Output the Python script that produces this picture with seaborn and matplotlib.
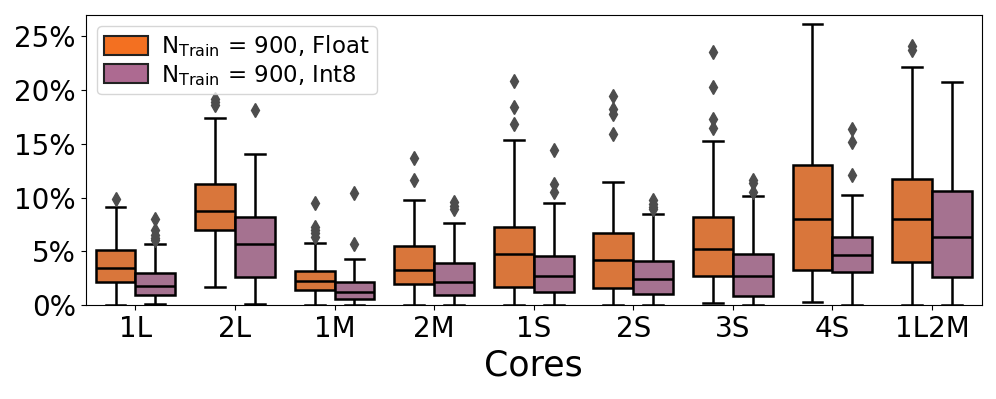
import numpy as np
import pandas as pd
import seaborn as sns
import matplotlib.pyplot as plt
from matplotlib.patches import Patch
from matplotlib.ticker import PercentFormatter, MultipleLocator

# Values (error in %)
cores = ["1L", "2L", "1M", "2M", "1S", "2S", "3S", "4S", "1L2M"]
labels = [r"$\mathrm{N_{Train}}$ = 900, Float", r"$\mathrm{N_{Train}}$ = 900, Int8"]
colors = ["#F37021", "#AD6A91"]

# Float: lower whisker, Q1, median, Q3, upper whisker, outliers
float_lo = [0.0, 1.67, 0.04, 0.04, 0.04, 0.04, 0.21, 0.28, 0.04]
float_q1 = [2.13, 6.96, 1.42, 1.95, 1.70, 1.64, 2.75, 3.28, 3.99]
float_med = [3.49, 8.78, 2.28, 3.28, 4.73, 4.23, 5.23, 8.01, 7.99]
float_q3 = [5.13, 11.23, 3.21, 5.53, 7.30, 6.74, 8.17, 13.03, 11.70]
float_hi = [9.13, 17.36, 5.76, 9.78, 15.35, 11.48, 15.23, 26.09, 22.13]
float_out = [[9.87], [19.13, 18.9, 18.6], [9.53, 7.3, 7.0, 6.69, 6.31],
             [13.68, 11.63], [20.83, 18.38, 16.86], [19.4, 18.2, 17.8, 15.93],
             [23.49, 20.27, 17.27, 16.43], [], [24.08, 23.7]]

# Int8
int_lo = [0.09, 0.15, 0.07, 0.07, 0.04, 0.04, 0.04, 0.04, 0.04]
int_q1 = [0.98, 2.60, 0.58, 0.93, 1.26, 1.05, 0.89, 3.12, 2.63]
int_med = [1.79, 5.72, 1.23, 2.13, 2.69, 2.41, 2.75, 4.67, 6.31]
int_q3 = [2.97, 8.17, 2.16, 3.90, 4.61, 4.11, 4.73, 6.37, 10.58]
int_hi = [5.72, 14.08, 4.30, 7.67, 9.47, 8.45, 10.18, 10.24, 20.76]
int_out = [[8.01, 6.99, 6.53, 6.22, 6.08], [18.13], [10.4, 5.66],
           [9.62, 9.22, 8.9], [14.42, 11.23, 10.49], [9.78, 9.45, 9.1, 8.91],
           [11.63, 11.33, 10.55], [16.37, 15.19, 12.1], []]


# Turn each five-number summary into a sample whose quartiles reproduce it
def sample(lo, q1, med, q3, hi, out, k=30):
    return [lo] + [q1] * k + [med] * k + [q3] * k + [hi] + list(out)


rows = []
summaries = [(labels[0], float_lo, float_q1, float_med, float_q3, float_hi, float_out),
             (labels[1], int_lo, int_q1, int_med, int_q3, int_hi, int_out)]
for name, lo, q1, med, q3, hi, out in summaries:
    for i, c in enumerate(cores):
        for v in sample(lo[i], q1[i], med[i], q3[i], hi[i], out[i]):
            rows.append({"Cores": c, "Type": name, "Error": v})
df = pd.DataFrame(rows)

fig, ax = plt.subplots(figsize=(9.96, 3.99), dpi=100)
fig.subplots_adjust(left=0.086, right=0.9857, top=0.9624, bottom=0.2348)

sns.boxplot(data=df, x="Cores", y="Error", hue="Type", order=cores, hue_order=labels,
            palette=colors, saturation=0.75, linecolor="black", linewidth=1.8,
            fliersize=7,
            flierprops=dict(marker="d", markerfacecolor="#4d4d4d", markeredgecolor="#4d4d4d"),
            ax=ax)

ax.set_ylim(0, 26.95)
ax.yaxis.set_major_locator(MultipleLocator(5))
ax.yaxis.set_major_formatter(PercentFormatter(100, decimals=0))
ax.set_xlabel("Cores", fontsize=25)
ax.set_ylabel("")
ax.tick_params(labelsize=20)

handles = [Patch(facecolor=col, edgecolor="#222222", linewidth=1.5) for col in colors]
ax.legend(handles, labels, loc="upper left", fontsize=16.5, labelspacing=0.15,
          handleheight=0.9, handlelength=1.9, handletextpad=0.6, borderpad=0.3)

plt.savefig("out.png", dpi=100)
